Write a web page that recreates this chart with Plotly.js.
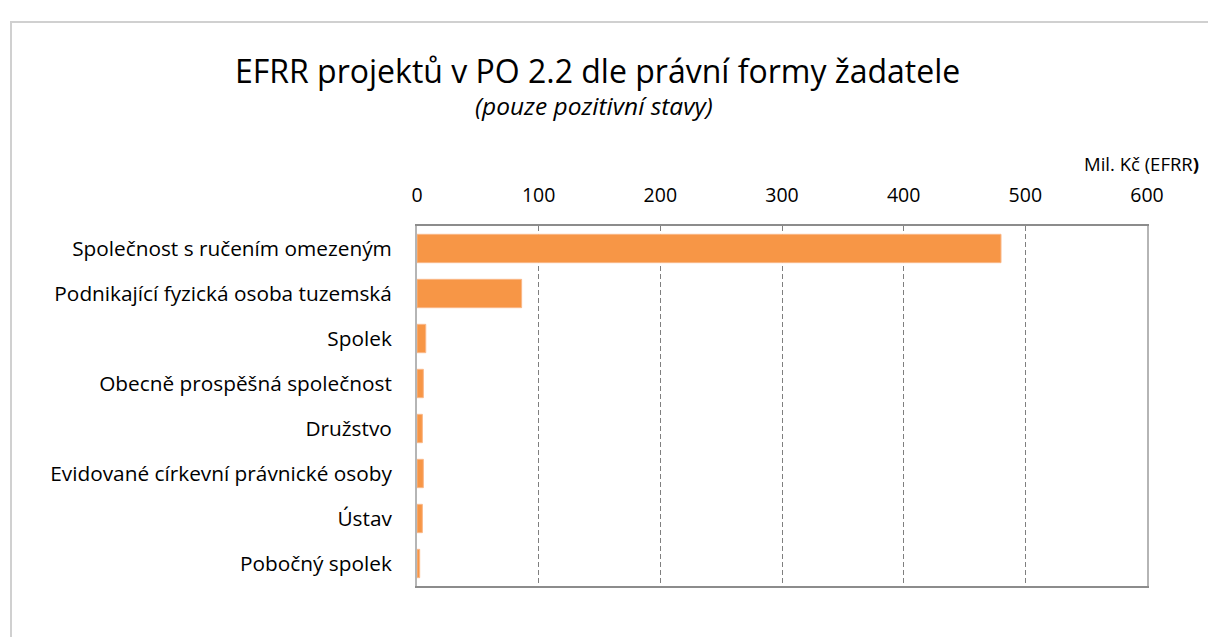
<!DOCTYPE html>
<html><head><meta charset="utf-8">
<script src="https://cdn.plot.ly/plotly-3.0.1.min.js"></script>
<style>
html,body{margin:0;padding:0;width:1208px;height:637px;overflow:hidden;background:#fff;}
#frame{position:absolute;left:10px;top:21px;width:1300px;height:700px;border:2px solid #d0d0d0;box-sizing:border-box;}
#chart{position:absolute;left:0;top:0;width:1208px;height:637px;}
</style></head>
<body>
<div id="frame"></div>
<div id="chart"></div>
<script>
const categories = [
  "Společnost s ručením omezeným",
  "Podnikající fyzická osoba tuzemská",
  "Spolek",
  "Obecně prospěšná společnost",
  "Družstvo",
  "Evidované církevní právnické osoby",
  "Ústav",
  "Pobočný spolek"
];
const values = [480, 86, 7.2, 5.2, 4.4, 5.2, 4.4, 2.2];
const tickVals = [0, 100, 200, 300, 400, 500, 600];
const tickText = ["0", "100", "200", "300", "400", "500", "600"];

const FONT = "'Open Sans', Lato, sans-serif";
const L = 417, R = 1147, T = 226, B = 586;
const px2x = x => (x - L) / (R - L);
const px2y = y => (B - y) / (B - T);

const trace = {
  type: "bar",
  orientation: "h",
  x: values,
  y: categories,
  marker: {color: "#F79646", line: {color: "#FAB787", width: 1}},
  width: 0.63,
  hoverinfo: "x+y"
};

const layout = {
  width: 1208, height: 637,
  margin: {l: L, r: 1208 - R, t: T, b: 637 - B, pad: 0},
  paper_bgcolor: "rgba(0,0,0,0)",
  plot_bgcolor: "rgba(0,0,0,0)",
  showlegend: false,
  font: {family: FONT, color: "#000", size: 18},
  xaxis: {
    side: "top",
    range: [0, 600],
    tickvals: tickVals,
    ticktext: tickText,
    ticks: "",
    showgrid: true,
    gridcolor: "#7f7f7f",
    griddash: "5px,3px",
    gridwidth: 1,
    zeroline: false,
    showline: true,
    linecolor: "#8c8c8c",
    linewidth: 2,
    mirror: true,
    ticklabelstandoff: 14,
    tickfont: {family: FONT, size: 19.5, color: "#000"}
  },
  yaxis: {
    type: "category",
    autorange: "reversed",
    ticks: "",
    showgrid: false,
    zeroline: false,
    showline: true,
    linecolor: "#b5b5b5",
    linewidth: 2,
    mirror: true,
    ticklabelstandoff: 19,
    tickfont: {family: FONT, size: 20.8, color: "#000"}
  },
  annotations: [
    {text: "EFRR projektů v PO 2.2 dle právní formy žadatele", xref: "paper", yref: "paper",
     x: px2x(597), y: px2y(70), xanchor: "center", yanchor: "middle", showarrow: false,
     font: {family: FONT, size: 32, color: "#000"}},
    {text: "<i>(pouze pozitivní stavy)</i>", xref: "paper", yref: "paper",
     x: px2x(594), y: px2y(105), xanchor: "center", yanchor: "middle", showarrow: false,
     font: {family: FONT, size: 24.5, color: "#000"}},
    {text: "Mil. Kč (EFRR<b>)</b>", xref: "paper", yref: "paper",
     x: px2x(1201), y: px2y(163), xanchor: "right", yanchor: "middle", showarrow: false,
     font: {family: FONT, size: 18.5, color: "#000"}}
  ]
};

Plotly.newPlot("chart", [trace], layout, {displayModeBar: false, staticPlot: true});
</script>
</body></html>
